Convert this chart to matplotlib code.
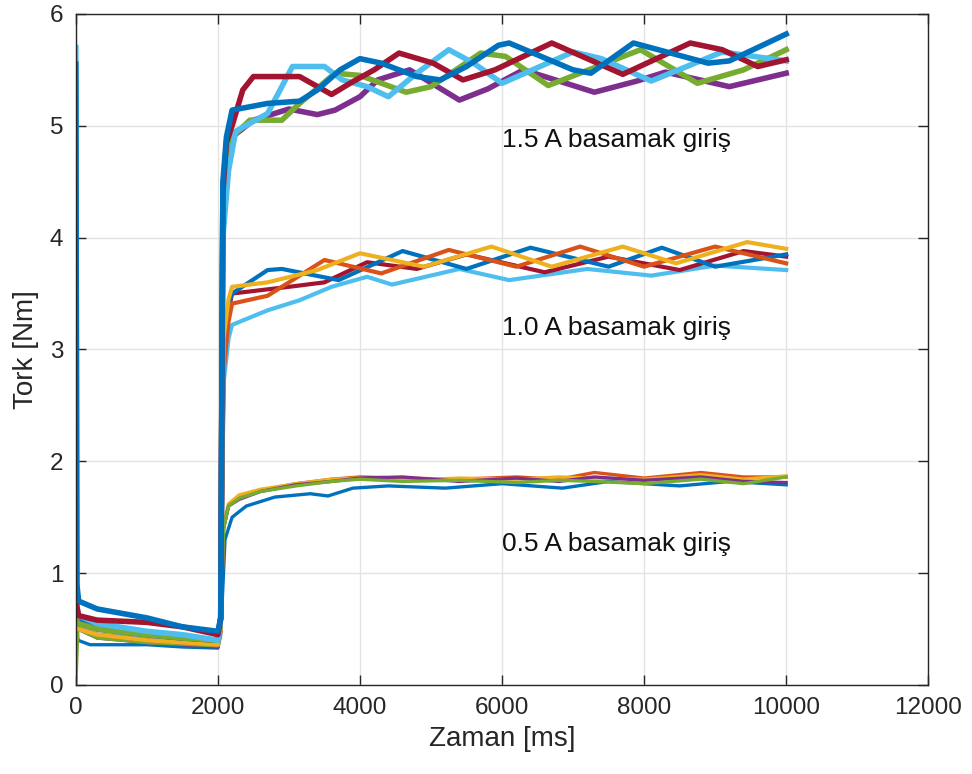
import matplotlib
matplotlib.use("Agg")
import matplotlib.pyplot as plt

# MATLAB default colour order
blue = '#0072BD'
orange = '#D95319'
yellow = '#EDB120'
purple = '#7E2F8E'
green = '#77AC30'
lblue = '#4DBEEE'
red = '#A2142F'

# ---- 0.5 A step ----
t1 = [0, 30, 200, 1000, 1500, 2000, 2040, 2100, 2200, 2400, 2800, 3300, 3550, 3900, 4400, 5200, 6000, 6850, 7500, 8500, 9200, 10000]
v1 = [0.6, 0.4, 0.36, 0.36, 0.34, 0.33, 0.45, 1.3, 1.5, 1.6, 1.68, 1.71, 1.69, 1.76, 1.78, 1.76, 1.8, 1.76, 1.82, 1.78, 1.82, 1.79]
t2 = [0, 30, 300, 1000, 2000, 2040, 2080, 2150, 2300, 2600, 3100, 3600, 4000, 4600, 5400, 6200, 6800, 7300, 8000, 8800, 9400, 10000]
v2 = [0.6, 0.5, 0.44, 0.4, 0.35, 0.5, 1.4, 1.6, 1.68, 1.74, 1.8, 1.84, 1.86, 1.85, 1.84, 1.86, 1.84, 1.9, 1.85, 1.9, 1.86, 1.86]
t3 = t2
v3 = [0.6, 0.5, 0.43, 0.38, 0.35, 0.5, 1.45, 1.62, 1.7, 1.75, 1.8, 1.84, 1.85, 1.83, 1.85, 1.84, 1.86, 1.85, 1.84, 1.88, 1.84, 1.87]
t4 = t2
v4 = [0.6, 0.5, 0.42, 0.38, 0.34, 0.5, 1.4, 1.6, 1.66, 1.73, 1.79, 1.82, 1.85, 1.86, 1.82, 1.85, 1.82, 1.86, 1.83, 1.86, 1.82, 1.81]
t5 = t2
v5 = [0.0, 0.5, 0.42, 0.38, 0.35, 0.5, 1.4, 1.6, 1.67, 1.73, 1.78, 1.82, 1.84, 1.82, 1.83, 1.81, 1.83, 1.82, 1.8, 1.84, 1.8, 1.86]

# ---- 1.0 A step ----
t6 = [0, 30, 300, 1000, 1500, 2000, 2040, 2080, 2150, 2200, 2700, 3150, 3600, 4100, 4450, 5400, 6100, 7200, 8100, 9000, 10000]
v6 = [0.6, 0.5, 0.45, 0.42, 0.4, 0.38, 0.5, 2.7, 3.1, 3.22, 3.35, 3.44, 3.56, 3.65, 3.58, 3.72, 3.62, 3.72, 3.66, 3.75, 3.71]
t7 = [0, 30, 300, 1000, 1500, 2000, 2040, 2080, 2150, 2200, 3000, 3500, 4100, 4800, 5500, 6600, 7500, 8500, 9400, 10000]
v7 = [0.8, 0.55, 0.5, 0.45, 0.42, 0.38, 0.5, 2.9, 3.35, 3.5, 3.56, 3.6, 3.78, 3.72, 3.85, 3.69, 3.83, 3.71, 3.88, 3.83]
t8 = [0, 30, 300, 1000, 1500, 2000, 2040, 2080, 2150, 2200, 2700, 2900, 3700, 4600, 5500, 6400, 7500, 8250, 9000, 10000]
v8 = [0.7, 0.6, 0.5, 0.45, 0.42, 0.4, 0.5, 3.0, 3.4, 3.5, 3.71, 3.72, 3.62, 3.88, 3.72, 3.91, 3.74, 3.91, 3.74, 3.85]
t9 = [0, 30, 300, 1000, 1500, 2000, 2040, 2080, 2150, 2200, 2700, 3500, 4300, 5250, 6200, 7100, 8000, 9000, 10000]
v9 = [0.6, 0.5, 0.45, 0.4, 0.38, 0.36, 0.5, 2.8, 3.25, 3.41, 3.48, 3.8, 3.68, 3.89, 3.74, 3.92, 3.74, 3.92, 3.77]
t10 = [0, 30, 300, 1000, 1500, 2000, 2040, 2080, 2150, 2200, 2700, 3400, 4000, 4900, 5850, 6700, 7700, 8450, 9450, 10000]
v10 = [0.6, 0.5, 0.45, 0.4, 0.38, 0.36, 0.5, 3.1, 3.45, 3.56, 3.6, 3.71, 3.86, 3.74, 3.92, 3.74, 3.92, 3.77, 3.96, 3.9]

# ---- 1.5 A step ----
t11 = [0, 30, 300, 1000, 1500, 2000, 2040, 2070, 2120, 2200, 2500, 3000, 3400, 3650, 4000, 4250, 4700, 5400, 5800, 6300, 7300, 7900, 8300, 9200, 10000]
v11 = [0.6, 0.55, 0.5, 0.45, 0.42, 0.4, 0.6, 4.2, 4.7, 4.9, 5.05, 5.15, 5.1, 5.14, 5.26, 5.41, 5.5, 5.23, 5.33, 5.5, 5.3, 5.4, 5.48, 5.35, 5.47]
t12 = [0, 30, 300, 1000, 1500, 2000, 2040, 2070, 2120, 2200, 2450, 2900, 3150, 3650, 4000, 4650, 5000, 5700, 6050, 6650, 7950, 8750, 9400, 10000]
v12 = [0.6, 0.55, 0.5, 0.45, 0.42, 0.4, 0.6, 4.3, 4.75, 4.9, 5.05, 5.05, 5.2, 5.47, 5.45, 5.3, 5.35, 5.65, 5.62, 5.36, 5.68, 5.38, 5.5, 5.68]
t13 = [0, 15, 40, 300, 1000, 1500, 2000, 2040, 2070, 2150, 2250, 2700, 3050, 3500, 3750, 4100, 4400, 4800, 5250, 5600, 6000, 7000, 7400, 8100, 9100, 10000]
v13 = [5.7, 0.7, 0.62, 0.55, 0.48, 0.45, 0.4, 0.6, 4.0, 4.6, 4.95, 5.11, 5.53, 5.53, 5.41, 5.35, 5.26, 5.47, 5.68, 5.56, 5.38, 5.66, 5.6, 5.4, 5.66, 5.58]
t14 = [0, 15, 40, 300, 1000, 1500, 2000, 2040, 2070, 2120, 2200, 2350, 2500, 3150, 3600, 3860, 4200, 4550, 5030, 5450, 5900, 6700, 7700, 8650, 9100, 9600, 10000]
v14 = [1.1, 0.7, 0.62, 0.58, 0.56, 0.52, 0.45, 0.6, 4.4, 4.85, 5.0, 5.32, 5.44, 5.44, 5.28, 5.38, 5.5, 5.65, 5.56, 5.41, 5.5, 5.74, 5.46, 5.74, 5.68, 5.53, 5.59]
t15 = [0, 15, 40, 300, 1000, 1500, 2000, 2040, 2070, 2120, 2200, 2700, 3150, 3400, 3720, 4000, 4300, 4800, 5130, 5500, 5950, 6100, 7000, 7250, 7850, 8900, 9200, 10000]
v15 = [5.55, 0.9, 0.75, 0.68, 0.6, 0.52, 0.48, 0.6, 4.5, 4.9, 5.14, 5.2, 5.22, 5.32, 5.5, 5.6, 5.56, 5.44, 5.41, 5.53, 5.72, 5.74, 5.5, 5.47, 5.74, 5.56, 5.58, 5.82]

curves = [(t1, v1, blue), (t2, v2, orange), (t3, v3, yellow), (t4, v4, purple), (t5, v5, green),
          (t6, v6, lblue), (t7, v7, red), (t8, v8, blue), (t9, v9, orange), (t10, v10, yellow),
          (t11, v11, purple), (t12, v12, green), (t13, v13, lblue), (t14, v14, red), (t15, v15, blue)]
widths = [2.4] * 5 + [3.0] * 5 + [4.0] * 5

labels = ['1.5 A basamak giriş', '1.0 A basamak giriş', '0.5 A basamak giriş']
label_y = [4.87, 3.19, 1.26]

sans = ['Liberation Sans', 'DejaVu Sans']

fig = plt.figure(figsize=(9.72, 7.74), dpi=100)
ax = fig.add_axes([0.078, 0.115, 0.877, 0.867])

for (t, v, c), lw in zip(curves, widths):
    ax.plot(t, v, color=c, lw=lw)

for s, y in zip(labels, label_y):
    ax.text(6000, y, s, fontsize=19, family=sans, va='center', ha='left', color='#111111')

ax.set_xlim(0, 12000)
ax.set_ylim(0, 6)
ax.set_xticks(range(0, 12001, 2000))
ax.set_yticks(range(0, 7))
ax.grid(True, color='#e3e3e3', lw=1)
ax.set_axisbelow(True)
ax.tick_params(direction='in', length=7, width=1, top=True, right=True, colors='#262626', labelsize=17.5, pad=9)
for lab in ax.get_xticklabels() + ax.get_yticklabels():
    lab.set_family(sans)
for sp in ax.spines.values():
    sp.set_color('#262626')
    sp.set_linewidth(1)
ax.set_xlabel('Zaman [ms]', fontsize=20, family=sans, color='#262626', labelpad=5)
ax.set_ylabel('Tork [Nm]', fontsize=20, family=sans, color='#262626', labelpad=8)

fig.savefig('out.png', dpi=100)
